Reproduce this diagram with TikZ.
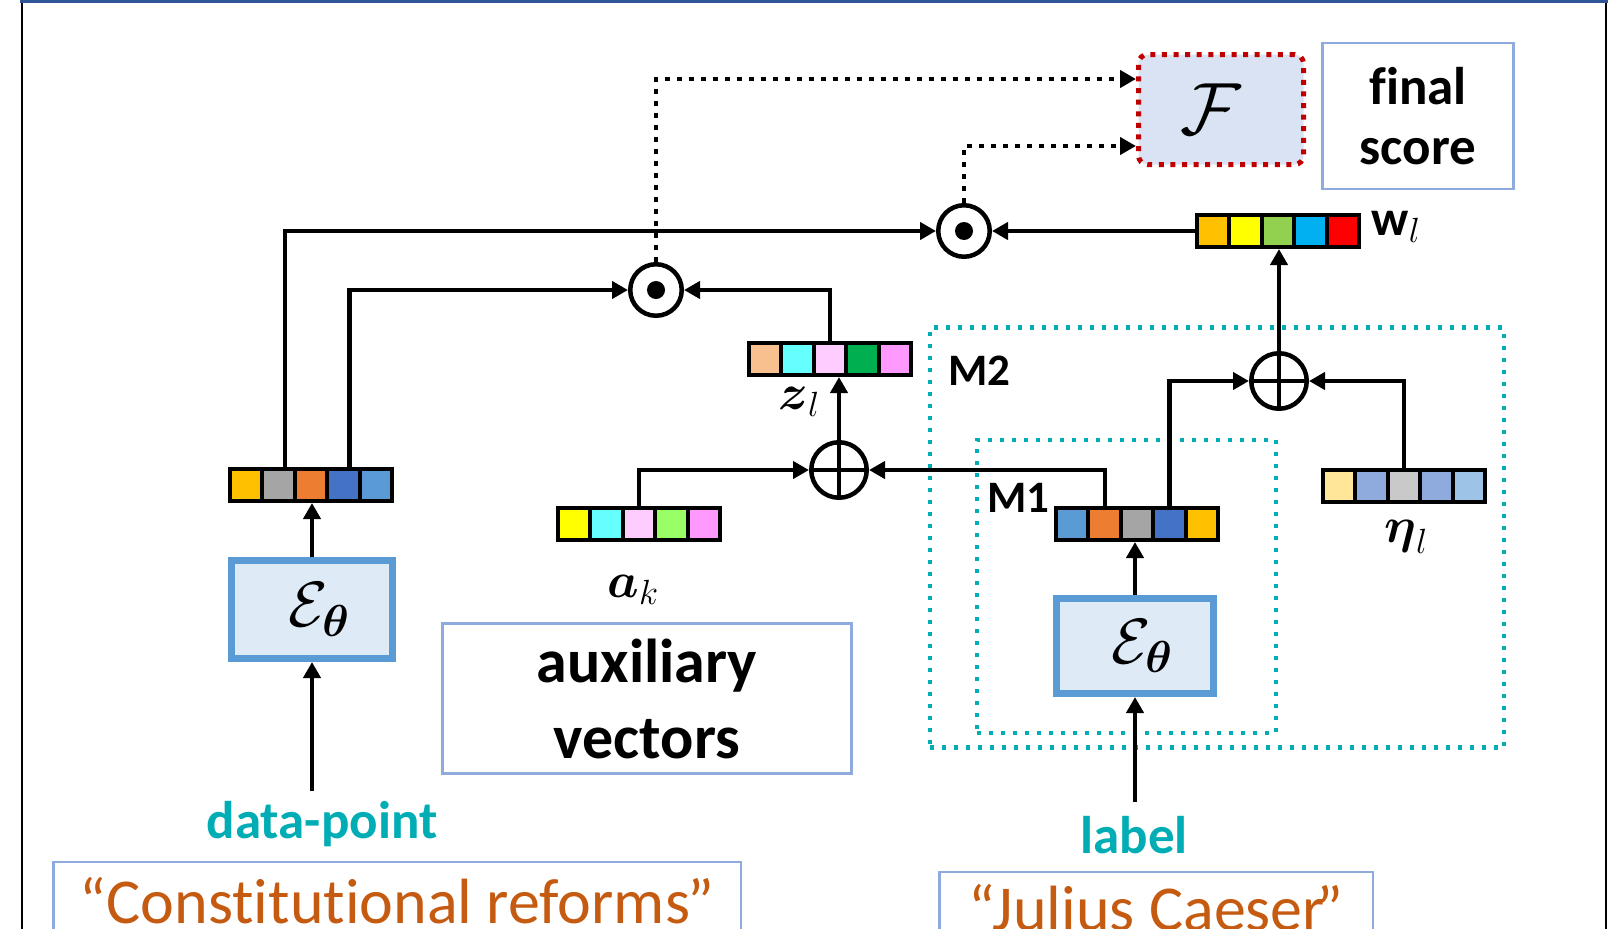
\RequirePackage{fix-cm}
\documentclass[tikz,border=0pt]{standalone}
\usepackage{amsmath}
\usepackage{fontspec}
\setmainfont{Carlito}[Ligatures={NoCommon,NoContextual}]
\usetikzlibrary{arrows.meta,calc}

% palette
\definecolor{mteal}{HTML}{00ADB5}
\definecolor{frameblue}{HTML}{2F5597}
\definecolor{boxline}{HTML}{8FAADC}
\definecolor{encline}{HTML}{5B9BD5}
\definecolor{encfill}{HTML}{DEEBF7}
\definecolor{scorefill}{HTML}{DAE3F3}
\definecolor{scoreline}{HTML}{C00000}
\definecolor{quote}{HTML}{C55A11}
\definecolor{cOrange}{HTML}{FFC000}
\definecolor{cGray}{HTML}{A5A5A5}
\definecolor{cRust}{HTML}{ED7D31}
\definecolor{cBlue}{HTML}{4472C4}
\definecolor{cSky}{HTML}{5B9BD5}
\definecolor{cYellow}{HTML}{FFFF00}
\definecolor{cCyan}{HTML}{66FFFF}
\definecolor{cPink}{HTML}{FFCCFF}
\definecolor{cLime}{HTML}{99FF66}
\definecolor{cMag}{HTML}{FF99FF}
\definecolor{cPeach}{HTML}{F8BF8F}
\definecolor{cGreen}{HTML}{00B050}
\definecolor{cLeaf}{HTML}{92D050}
\definecolor{cAzure}{HTML}{00B0F0}
\definecolor{cRed}{HTML}{FF0000}
\definecolor{cCream}{HTML}{FFE699}
\definecolor{cPeri}{HTML}{8FAADC}
\definecolor{cSilver}{HTML}{C9C9C9}
\definecolor{cIce}{HTML}{9DC3E6}

\newcommand{\bigbold}{\fontsize{53}{60}\selectfont\bfseries}
\newcommand{\mathbig}{\fontsize{50}{56}\selectfont}

% a row of five coloured cells: name, left x, centre y, colours
\newcommand{\cellrow}[4]{%
  \foreach \c [count=\i] in {#4}{%
    \node[cell,fill=\c] (#1-\i) at ({#2+2+32.4*(\i-0.5)},#3) {};
  }%
}

\begin{document}
\begin{tikzpicture}[x=1pt,y=-1pt,
  conn/.style={line width=4.2pt},
  arr/.style={conn,-{Triangle[length=16pt,width=17pt]}},
  dotarr/.style={line width=4.5pt,dash pattern=on 5pt off 7pt,-{Triangle[length=16pt,width=17pt]}},
  cell/.style={draw=black,line width=4pt,minimum width=32.4pt,minimum height=32pt,inner sep=0pt},
  odot/.style={circle,draw,line width=4.5pt,minimum size=51.5pt,inner sep=0pt},
  oplus/.style={circle,draw,line width=4.5pt,minimum size=55.5pt,inner sep=0pt,
    path picture={\draw[line width=4.5pt]
      (path picture bounding box.north) -- (path picture bounding box.south)
      (path picture bounding box.west) -- (path picture bounding box.east);}},
  enc/.style={draw=encline,fill=encfill,line width=7pt,inner sep=0pt,
    font=\fontsize{64}{66}\selectfont},
  mbox/.style={draw=mteal,line width=4.5pt,dash pattern=on 4pt off 8pt,inner sep=0pt},
  infobox/.style={draw=boxline,line width=2.5pt,inner sep=0pt},
  mlabel/.style={anchor=base west,font=\fontsize{45}{50}\selectfont\bfseries},
  vlabel/.style={font=\mathbig},
  src/.style={text=mteal,font=\bigbold,anchor=base},
  quotebox/.style={infobox,text=quote,font=\fontsize{64}{70}\selectfont,anchor=base}
]
\useasboundingbox (0,0) rectangle (1612,929);

% outer frame
\draw[line width=2.5pt] (22,0) -- (22,929);
\draw[line width=2.5pt] (1606,0) -- (1606,929);
\draw[frameblue,line width=3pt] (20,1) -- (1608,1);

% model boxes
\node[mbox,minimum width=574pt,minimum height=420pt] (M2) at (1216.75,537.5) {};
\node[mbox,minimum width=299pt,minimum height=293pt] (M1) at (1126.5,586.5) {};
\node[mlabel] (m2lab) at (945,385) {M2};
\node[mlabel] (m1lab) at (984,512) {M1};

% score function and caption
\node[draw=scoreline,fill=scorefill,line width=5pt,dash pattern=on 5pt off 6.6pt,
  rounded corners=9pt,minimum width=165pt,minimum height=110pt,inner sep=0pt,
  font=\fontsize{74}{76}\selectfont] (F) at (1221,109.5) {$\mathcal{F}$\hspace*{20pt}};
\node[infobox,minimum width=191pt,minimum height=146pt,align=center,font=\bigbold]
  (score) at (1418,116) {final\\score};

% encoders
\node[enc,minimum width=161pt,minimum height=98pt] (encL) at (312,609.5)
  {\hspace*{14pt}$\mathcal{E}_{\boldsymbol{\theta}}$};
\node[enc,minimum width=157pt,minimum height=95pt] (encR) at (1135,646)
  {\hspace*{14pt}$\mathcal{E}_{\boldsymbol{\theta}}$};

% vectors
\cellrow{vL}{228}{485}{cOrange,cGray,cRust,cBlue,cSky}
\cellrow{vA}{556}{524}{cYellow,cCyan,cPink,cLime,cMag}
\cellrow{vZ}{747}{359}{cPeach,cCyan,cPink,cGreen,cMag}
\cellrow{vW}{1195}{231}{cOrange,cYellow,cLeaf,cAzure,cRed}
\cellrow{vEta}{1321}{486}{cCream,cPeri,cSilver,cPeri,cIce}
\cellrow{vM}{1054}{524}{cSky,cRust,cGray,cBlue,cOrange}

\node[vlabel] (wlab) at (1396,227) {$\mathbf{w}_l$};
\node[vlabel] (zlab) at (799,402) {$\boldsymbol{z}_l$};
\node[vlabel] (alab) at (633,590) {$\boldsymbol{a}_k$};
\node[vlabel] (etalab) at (1406,537) {$\boldsymbol{\eta}_l$};

% operators
\node[odot] (odot1) at (656,290) {};
\fill (odot1.center) circle (9pt);
\node[odot] (odot2) at (964,231) {};
\fill (odot2.center) circle (9pt);
\node[oplus] (oplus1) at (839,470) {};
\node[oplus] (oplus2) at (1279,381) {};

% auxiliary vectors caption
\node[infobox,minimum width=409pt,minimum height=150pt,align=center,
  font=\fontsize{62}{76}\selectfont\bfseries] (aux) at (647,698.5) {auxiliary\\vectors};

% inputs
\node[src] (dp) at (322,838) {data-point};
\node[src] (lab) at (1134,853) {label};
\node[quotebox,text height=45pt,text depth=14pt,inner ysep=16pt,minimum width=687.5pt]
  (qL) at (397,923) {“Constitutional reforms\kern-3pt”};
\node[quotebox,text height=46pt,text depth=14pt,inner ysep=12pt,minimum width=433.5pt]
  (qR) at (1156,930) {“Julius Caeser\kern-9pt”};

% connectors
\draw[arr] ([xshift=6pt]vL-2.north) |- (odot2.west);
\draw[arr] ([xshift=6pt]vL-4.north) |- (odot1.west);
\draw[arr] (vZ-3.north) |- (odot1.east);
\draw[arr] (vW-1.west) -- (odot2.east);
\draw[arr] (vA-3.north) |- (oplus1.west);
\draw[arr] (vM-2.north) |- (oplus1.east);
\draw[arr] (oplus1.north) -- (oplus1.north |- vZ-3.south);
\draw[arr] (vM-4.north) |- (oplus2.west);
\draw[arr] (vEta-3.north) |- (oplus2.east);
\draw[arr] (oplus2.north) -- (oplus2.north |- vW-3.south);
\draw[arr] (encL.north) -- (encL.north |- vL-3.south);
\draw[arr] (encR.north) -- (encR.north |- vM-3.south);
\draw[arr] ([yshift=6pt]dp.north -| encL.south) -- (encL.south);
\draw[arr] ([yshift=10pt]lab.north -| encR.south) -- (encR.south);
\draw[dotarr] (odot1.north) |- ([yshift=30.5pt]F.west);
\draw[dotarr] (odot2.north) |- ([yshift=-36.5pt]F.west);
\end{tikzpicture}
\end{document}
